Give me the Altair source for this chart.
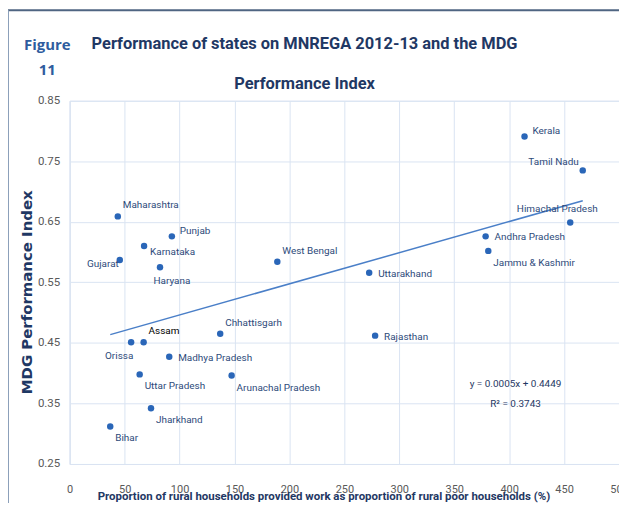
import altair as alt
import pandas as pd

states = ["Kerala", "Tamil Nadu", "Himachal Pradesh", "Andhra Pradesh", "Jammu & Kashmir",
          "Uttarakhand", "Rajasthan", "West Bengal", "Maharashtra", "Punjab", "Karnataka",
          "Gujarat", "Haryana", "Chhattisgarh", "Assam", "Orissa", "Madhya Pradesh",
          "Uttar Pradesh", "Arunachal Pradesh", "Jharkhand", "Bihar"]
work_pct = [414, 467, 455.6, 378.6, 381, 272.6, 278, 189, 43.8, 93, 67.7,
            45.6, 82.2, 137, 67.3, 55.9, 90.6, 63.7, 147.4, 74, 36.9]
mdg_index = [0.791, 0.735, 0.649, 0.626, 0.602, 0.566, 0.462, 0.584, 0.659, 0.626, 0.610,
             0.587, 0.575, 0.465, 0.451, 0.451, 0.427, 0.398, 0.396, 0.342, 0.312]
label_place = ["rh", "ul", "u", "r", "lr", "r", "r", "ur", "ur", "rh", "rl",
               "l", "d", "ur", "ur", "dl", "r", "lr", "lr", "lr", "lr"]

title_text = "Performance of states on MNREGA 2012-13 and the MDG\nPerformance Index"
figure_label = "Figure\n11"
equation_text = "y = 0.0005x + 0.4449\nR\u00b2 = 0.3743"
x_ticks = [0, 50, 100, 150, 200, 250, 300, 350, 400, 450, 500]
y_ticks = [0.25, 0.35, 0.45, 0.55, 0.65, 0.75, 0.85]

df = pd.DataFrame({"state": states, "work": work_pct, "mdg": mdg_index, "place": label_place})
df["black"] = df["state"] == "Assam"

FONT = "Roboto"
NAVY = "#1F3864"
LABEL = "#2D4A7A"
GRID = "#DAE4F2"

x_enc = alt.X("work:Q", scale=alt.Scale(domain=[0, 500], nice=False),
              axis=alt.Axis(values=x_ticks, title="Proportion of rural households provided work as proportion of rural poor households (%)",
                            grid=True, gridColor=GRID, domainColor=GRID, ticks=False,
                            labelFont=FONT, labelFontSize=11, labelColor="#595959",
                            labelPadding=20, labelFlush=False,
                            titleFont=FONT, titleFontSize=11.5, titleFontWeight="bold",
                            titleColor=NAVY, titleX=255, titleY=33, titleBaseline="middle"))
y_enc = alt.Y("mdg:Q", scale=alt.Scale(domain=[0.25, 0.85], nice=False, zero=False),
              axis=alt.Axis(values=y_ticks, format=".2f", title="MDG Performance Index",
                            grid=True, gridColor=GRID, domainColor=GRID, ticks=False,
                            labelFont=FONT, labelFontSize=11.5, labelColor="#595959",
                            labelPadding=10, labelFlush=False,
                            titleFont="DejaVu Sans", titleFontSize=15, titleFontWeight="bold",
                            titleColor=NAVY, titleX=-43, titleY=192, titleAngle=270,
                            titleBaseline="middle"))

base = alt.Chart(df)

points = base.mark_circle(size=42, color="#2A66B8", opacity=1).encode(x=x_enc, y=y_enc)

trend = base.transform_regression("work", "mdg", method="linear").mark_line(
    color="#4A7FC8", strokeWidth=1.5).encode(x="work:Q", y="mdg:Q")

placements = {
    "r": dict(align="left", dx=9, dy=1),
    "rh": dict(align="left", dx=8, dy=-5),
    "rl": dict(align="left", dx=6, dy=6),
    "ur": dict(align="left", dx=5, dy=-11),
    "lr": dict(align="left", dx=5, dy=12),
    "l": dict(align="right", dx=-1, dy=4),
    "ul": dict(align="right", dx=-4, dy=-8),
    "u": dict(align="center", dx=-13, dy=-13),
    "d": dict(align="center", dx=12, dy=14),
    "dl": dict(align="center", dx=-12, dy=14),
}

label_layers = []
for key, p in placements.items():
    label_layers.append(
        base.transform_filter(alt.datum.place == key).mark_text(
            font=FONT, fontSize=10, baseline="middle", **p).encode(
            x="work:Q", y="mdg:Q", text="state:N",
            color=alt.condition(alt.datum.black, alt.value("#000000"), alt.value(LABEL)))
    )

note_df = pd.DataFrame({"eq": [equation_text], "fig": [figure_label], "title": [title_text]})
equation = alt.Chart(note_df).mark_text(font=FONT, fontSize=10, color=NAVY,
                                        baseline="middle", align="center",
                                        lineBreak="\n", lineHeight=20).encode(
    text="eq:N", x=alt.value(448), y=alt.value(285))

figure = alt.Chart(note_df).mark_text(font="Open Sans", fontSize=15, fontWeight="bold",
                                      color="#2E5C9E", align="center", baseline="middle",
                                      lineBreak="\n", lineHeight=25).encode(
    text="fig:N", x=alt.value(-22.5), y=alt.value(-56))

title = alt.Chart(note_df).mark_text(font=FONT, fontSize=16.5, fontWeight="bold",
                                     color=NAVY, align="center", baseline="middle",
                                     lineBreak="\n", lineHeight=40).encode(
    text="title:N", x=alt.value(236), y=alt.value(-57))

top_border = alt.Chart(note_df).mark_rect(color="#4F6582").encode(
    x=alt.value(-62), x2=alt.value(560), y=alt.value(-92), y2=alt.value(-90))
left_border = alt.Chart(note_df).mark_rect(color="#8CA0BA").encode(
    x=alt.value(-62), x2=alt.value(-61), y=alt.value(-91), y2=alt.value(420))

chart = alt.layer(trend, points, *label_layers, equation, figure, title,
                  top_border, left_border).properties(
    width=552, height=365,
    autosize=alt.AutoSizeParams(type="none"),
    padding={"left": 62, "top": 92, "right": 0, "bottom": 38},
).configure_view(stroke=GRID)

chart.save("out.html", embed_options={"renderer": "svg", "actions": False})
